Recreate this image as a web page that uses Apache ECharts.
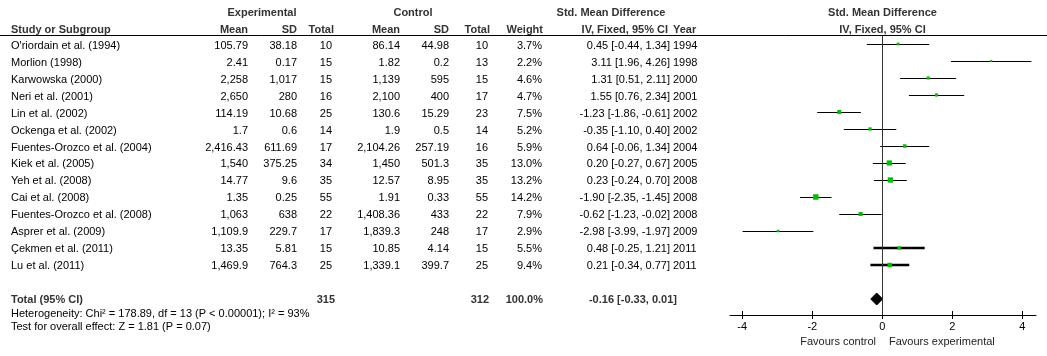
<!DOCTYPE html>
<html>
<head>
<meta charset="utf-8">
<script src="https://cdn.jsdelivr.net/npm/echarts@6/dist/echarts.min.js"></script>
<style>html,body{margin:0;padding:0;background:#fff}#c{width:1047px;height:356px}</style>
</head>
<body>
<div id="c"></div>
<script>
// ---------------- DATA ----------------
const studies = ["O'riordain et al. (1994)", "Morlion (1998)", "Karwowska (2000)", "Neri et al. (2001)", "Lin et al. (2002)", "Ockenga et al. (2002)", "Fuentes-Orozco et al. (2004)", "Kiek et al. (2005)", "Yeh et al. (2008)", "Cai et al. (2008)", "Fuentes-Orozco et al. (2008)", "Asprer et al. (2009)", "Çekmen et al. (2011)", "Lu et al. (2011)"];
const expMean = ["105.79","2.41","2,258","2,650","114.19","1.7","2,416.43","1,540","14.77","1.35","1,063","1,109.9","13.35","1,469.9"];
const expSD = ["38.18","0.17","1,017","280","10.68","0.6","611.69","375.25","9.6","0.25","638","229.7","5.81","764.3"];
const expTotal = [10,15,15,16,25,14,17,34,35,55,22,17,15,25];
const ctlMean = ["86.14","1.82","1,139","2,100","130.6","1.9","2,104.26","1,450","12.57","1.91","1,408.36","1,839.3","10.85","1,339.1"];
const ctlSD = ["44.98","0.2","595","400","15.29","0.5","257.19","501.3","8.95","0.33","433","248","4.14","399.7"];
const ctlTotal = [10,13,15,17,23,14,16,35,35,55,22,17,15,25];
const weights = [3.7,2.2,4.6,4.7,7.5,5.2,5.9,13.0,13.2,14.2,7.9,2.9,5.5,9.4];
const smd = [0.45,3.11,1.31,1.55,-1.23,-0.35,0.64,0.20,0.23,-1.90,-0.62,-2.98,0.48,0.21];
const ciLower = [-0.44,1.96,0.51,0.76,-1.86,-1.10,-0.06,-0.27,-0.24,-2.35,-1.23,-3.99,-0.25,-0.34];
const ciUpper = [1.34,4.26,2.11,2.34,-0.61,0.40,1.34,0.67,0.70,-1.45,-0.02,-1.97,1.21,0.77];
const years = [1994,1998,2000,2001,2002,2002,2004,2005,2008,2008,2008,2009,2011,2011];
const totalExp = 315;
const totalCtl = 312;
const totalWeight = "100.0%";
const totalSMD = -0.16;
const totalLower = -0.33;
const totalUpper = 0.01;
const heterogeneityText = "Heterogeneity: Chi² = 178.89, df = 13 (P < 0.00001); I² = 93%";
const overallText = "Test for overall effect: Z = 1.81 (P = 0.07)";
const xTicks = [-4, -2, 0, 2, 4];
const favourLeft = "Favours control";
const favourRight = "Favours experimental";

// ---------------- LAYOUT / STYLE ----------------
const FONT = "Liberation Sans, Arial, sans-serif";
const thickRows = [12, 13];
const COL = { study: 11, eMean: 248, eSD: 297, eTot: 332, eTotH: 334, cMean: 400, cSD: 449, cTot: 488, cTotH: 490,
  w: 542, wH: 543, ci: 670, ciH: 668, year: 673, expC: 262, ctlC: 413, smdC: 611, plotC: 882.5,
  totE: 335, totC: 489, totW: 543, totCI: 677, favL: 876, favR: 889 };
const R = { grp: -1.98, head: -0.99, total: 15, het: 15.88, test: 16.65, fav: 17.52 };

const fmt = v => v.toFixed(2);
const items = [];
function T(x, r, text, align, bold, color) {
  items.push({ x, r, text: String(text), align, bold: !!bold, color: color || '#000' });
}
const HC = '#333';
T(COL.expC, R.grp, 'Experimental', 'center', true, HC);
T(COL.ctlC, R.grp, 'Control', 'center', true, HC);
T(COL.smdC, R.grp, 'Std. Mean Difference', 'center', true, HC);
T(COL.plotC, R.grp, 'Std. Mean Difference', 'center', true, HC);
T(COL.study, R.head, 'Study or Subgroup', 'left', true, HC);
T(COL.eMean, R.head, 'Mean', 'right', true, HC);
T(COL.eSD, R.head, 'SD', 'right', true, HC);
T(COL.eTotH, R.head, 'Total', 'right', true, HC);
T(COL.cMean, R.head, 'Mean', 'right', true, HC);
T(COL.cSD, R.head, 'SD', 'right', true, HC);
T(COL.cTotH, R.head, 'Total', 'right', true, HC);
T(COL.wH, R.head, 'Weight', 'right', true, HC);
T(COL.ciH, R.head, 'IV, Fixed, 95% CI', 'right', true, HC);
T(COL.year, R.head, 'Year', 'left', true, HC);
T(COL.plotC, R.head, 'IV, Fixed, 95% CI', 'center', true, HC);
studies.forEach((s, i) => {
  T(COL.study, i, s, 'left');
  T(COL.eMean, i, expMean[i], 'right');
  T(COL.eSD, i, expSD[i], 'right');
  T(COL.eTot, i, expTotal[i], 'right');
  T(COL.cMean, i, ctlMean[i], 'right');
  T(COL.cSD, i, ctlSD[i], 'right');
  T(COL.cTot, i, ctlTotal[i], 'right');
  T(COL.w, i, weights[i].toFixed(1) + '%', 'right');
  T(COL.ci, i, fmt(smd[i]) + ' [' + fmt(ciLower[i]) + ', ' + fmt(ciUpper[i]) + ']', 'right');
  T(COL.year, i, years[i], 'left');
});
T(COL.study, R.total, 'Total (95% CI)', 'left', true, HC);
T(COL.totE, R.total, totalExp, 'right', true, HC);
T(COL.totC, R.total, totalCtl, 'right', true, HC);
T(COL.totW, R.total, totalWeight, 'right', true, HC);
T(COL.totCI, R.total, fmt(totalSMD) + ' [' + fmt(totalLower) + ', ' + fmt(totalUpper) + ']', 'right', true, HC);
T(COL.study, R.het, heterogeneityText, 'left');
T(COL.study, R.test, overallText, 'left');
T(COL.favL, R.fav, favourLeft, 'right', false, '#222');
T(COL.favR, R.fav, favourRight, 'left', false, '#222');

// forest plot: row r -> y = 44 + 17 r ; grid from y=36 to y=315
const PLOT = { left: 730, width: 306, top: 36, height: 279, xmin: -4.35, xmax: 4.39, ymin: -0.4706, ymax: 15.941 };

const chart = echarts.init(document.getElementById('c'), null, { renderer: 'canvas' });
const ciData = studies.map((s, i) => [ciLower[i], ciUpper[i], i]);
const sqData = studies.map((s, i) => ({ value: [smd[i], i], symbolSize: 1.45 * Math.sqrt(weights[i]) }));

chart.setOption({
  animation: false,
  backgroundColor: '#fff',
  grid: [
    { left: 0, right: 0, top: 0, bottom: 0 },
    { left: PLOT.left, width: PLOT.width, top: PLOT.top, height: PLOT.height },
    { left: PLOT.left, width: PLOT.width, top: PLOT.top, height: PLOT.height }
  ],
  xAxis: [
    { gridIndex: 0, type: 'value', min: 0, max: 1047, show: false },
    { gridIndex: 1, type: 'value', min: PLOT.xmin, max: PLOT.xmax, position: 'bottom',
      splitLine: { show: false },
      axisLine: { show: true, onZero: false, lineStyle: { color: '#000', width: 1 } },
      axisTick: { show: true, length: 4, customValues: xTicks, lineStyle: { color: '#000', width: 1 } },
      axisLabel: { show: true, customValues: xTicks, margin: 6, color: '#000', fontFamily: FONT, fontSize: 11,
        formatter: v => String(v) } },
    { gridIndex: 2, type: 'value', min: PLOT.xmin, max: PLOT.xmax, position: 'bottom',
      splitLine: { show: false }, axisLine: { show: false, onZero: false },
      axisTick: { show: true, inside: true, length: 4, customValues: xTicks, lineStyle: { color: '#000', width: 1 } },
      axisLabel: { show: false } }
  ],
  yAxis: [
    { gridIndex: 0, type: 'value', min: -2.743, max: 18.347, inverse: true, show: false },
    { gridIndex: 1, type: 'value', min: PLOT.ymin, max: PLOT.ymax, inverse: true, show: false },
    { gridIndex: 2, type: 'value', min: PLOT.ymin, max: PLOT.ymax, inverse: true, show: false }
  ],
  graphic: [
    { type: 'line', shape: { x1: 0, y1: 35.5, x2: 1047, y2: 35.5 }, style: { stroke: '#000', lineWidth: 1 }, silent: true }
  ],
  series: [
    {
      type: 'custom', xAxisIndex: 0, yAxisIndex: 0, silent: true, clip: false,
      data: items.map(it => [it.x, it.r]),
      renderItem: (params, api) => {
        const it = items[params.dataIndex];
        const p = api.coord([it.x, it.r]);
        return { type: 'text', x: p[0], y: p[1], style: {
          text: it.text, align: it.align, verticalAlign: 'middle', fill: it.color,
          font: (it.bold ? 'bold ' : '') + '11px ' + FONT } };
      }
    },
    {
      type: 'custom', xAxisIndex: 1, yAxisIndex: 1, silent: true, clip: false,
      data: ciData,
      encode: { x: [0, 1], y: 2 },
      renderItem: (params, api) => {
        const a = api.coord([api.value(0), api.value(2)]);
        const b = api.coord([api.value(1), api.value(2)]);
        const thick = thickRows.indexOf(params.dataIndex) >= 0;
        const y = thick ? Math.round(a[1]) : Math.round(a[1]) + 0.5;
        return { type: 'line', shape: { x1: a[0], y1: y, x2: b[0], y2: y },
          style: { stroke: '#000', lineWidth: thick ? 2.5 : 1 } };
      },
      markLine: { silent: true, symbol: 'none', label: { show: false },
        lineStyle: { color: '#333', width: 1, type: 'solid' }, data: [{ xAxis: 0 }] }
    },
    {
      type: 'scatter', xAxisIndex: 1, yAxisIndex: 1, silent: true, symbol: 'rect',
      itemStyle: { color: '#00bf00', opacity: 1 },
      data: sqData, z: 5
    },
    {
      type: 'custom', xAxisIndex: 1, yAxisIndex: 1, silent: true, clip: false,
      data: [[totalLower, totalUpper, totalSMD, R.total]],
      encode: { x: [0, 1, 2], y: 3 },
      renderItem: (params, api) => {
        const l = api.coord([api.value(0), api.value(3)]);
        const u = api.coord([api.value(1), api.value(3)]);
        const m = api.coord([api.value(2), api.value(3)]);
        const h = 6;
        return { type: 'polygon', shape: { points: [[l[0], l[1]], [m[0], m[1] - h], [u[0], u[1]], [m[0], m[1] + h]] },
          style: { fill: '#000', stroke: '#000', lineWidth: 1 }, z2: 10 };
      }
    }
  ]
});
</script>
</body>
</html>
